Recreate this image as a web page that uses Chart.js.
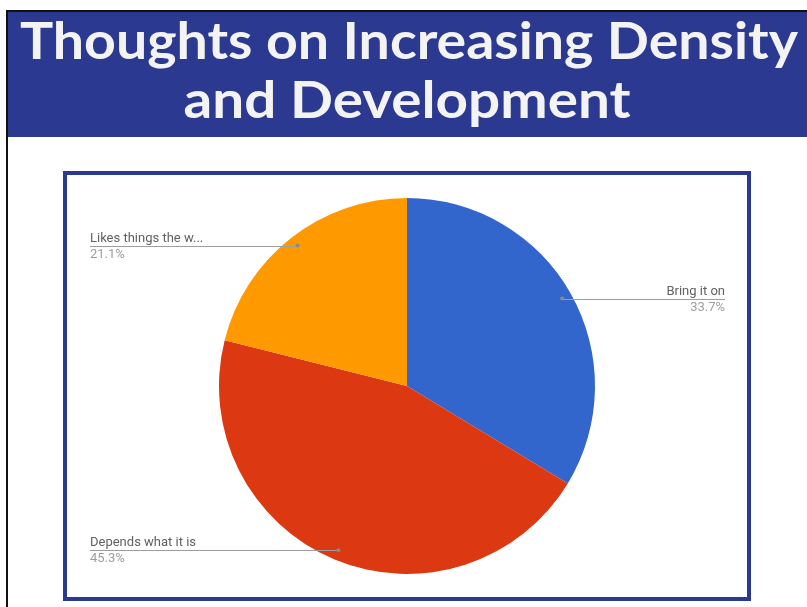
<!DOCTYPE html>
<html>
<head>
<meta charset="utf-8">
<title>Thoughts on Increasing Density and Development</title>
<script src="https://cdn.jsdelivr.net/npm/chart.js@4/dist/chart.umd.min.js"></script>
<style>
  html, body { margin: 0; padding: 0; background: #fff; }
  #page { position: relative; width: 807px; height: 607px; overflow: hidden; }
  #edgeTop { position: absolute; left: 6px; top: 10px; width: 801px; height: 2px; background: #111; }
  #edgeLeft { position: absolute; left: 6px; top: 10px; width: 2px; height: 597px; background: #111; }
  #banner { position: absolute; left: 8px; top: 12px; width: 799px; height: 125px; background: #2b3990; }
  #heading { position: absolute; left: 0; top: 0; }
  #box { position: absolute; left: 63px; top: 171px; width: 680px; height: 422px; border: 4px solid #2b3990; }
  #chartWrap { position: absolute; left: 0; top: 0; width: 807px; height: 607px; }
</style>
</head>
<body>
<div id="page">
  <div id="edgeTop"></div>
  <div id="edgeLeft"></div>
  <div id="banner"></div>
  <svg id="heading" width="807" height="140">
    <g font-family="Lato, 'Open Sans', sans-serif" font-weight="bold" font-size="52" fill="#f3f3f3" text-anchor="middle">
      <text x="409" y="59" textLength="778" lengthAdjust="spacingAndGlyphs">Thoughts on Increasing Density</text>
      <text x="407" y="118" textLength="447" lengthAdjust="spacingAndGlyphs">and Development</text>
    </g>
  </svg>
  <div id="box"></div>
  <div id="chartWrap"><canvas id="chart" width="807" height="607"></canvas></div>
</div>
<script>
// survey answers, clockwise from 12 o'clock
const answers = ['Bring it on', 'Depends what it is', 'Likes things the w...'];
const shares = [33.7, 45.3, 21.1];
const sliceColors = ['#3366cc', '#dc3912', '#ff9900'];

// x where the leader lines end on each side
const labelLeft = 90;
const labelRight = 725;

const leaderLabels = {
  id: 'leaderLabels',
  afterDatasetsDraw(chart) {
    const ctx = chart.ctx;
    const meta = chart.getDatasetMeta(0);
    ctx.save();
    meta.data.forEach((arc, i) => {
      const p = arc.getProps(['x', 'y', 'startAngle', 'endAngle', 'outerRadius'], true);
      const mid = (p.startAngle + p.endAngle) / 2;
      const px = p.x + Math.cos(mid) * p.outerRadius * 0.947;
      const py = p.y + Math.sin(mid) * p.outerRadius * 0.947;
      const right = Math.cos(mid) > 0;
      const ex = right ? labelRight : labelLeft;

      ctx.strokeStyle = '#9e9e9e';
      ctx.lineWidth = 1;
      ctx.beginPath();
      ctx.moveTo(px, Math.round(py) + 0.5);
      ctx.lineTo(ex, Math.round(py) + 0.5);
      ctx.stroke();

      ctx.fillStyle = '#8a8a8a';
      ctx.beginPath();
      ctx.arc(px, py, 2, 0, Math.PI * 2);
      ctx.fill();

      ctx.textAlign = right ? 'right' : 'left';
      ctx.textBaseline = 'alphabetic';
      ctx.font = '13px Roboto, sans-serif';
      ctx.fillStyle = '#616161';
      ctx.fillText(answers[i], ex, py - 4);
      ctx.fillStyle = '#9e9e9e';
      ctx.fillText(shares[i].toFixed(1) + '%', ex, py + 12);
    });
    ctx.restore();
  }
};

chartIt();

function chartIt(){
  const ctx = document.getElementById('chart').getContext('2d');
  const myChart = new Chart(ctx, {
    type: 'pie',
    data: {
      labels: answers,
      datasets: [{
        data: shares,
        backgroundColor: sliceColors,
        borderColor: '#ffffff',
        borderWidth: 0
      }]
    },
    options: {
      responsive: false,
      animation: false,
      layout: {
        padding: { top: 198, bottom: 33, left: 219, right: 212 }
      },
      plugins: {
        legend: { display: false },
        tooltip: { enabled: false }
      }
    },
    plugins: [leaderLabels]
  });
}
</script>
</body>
</html>
